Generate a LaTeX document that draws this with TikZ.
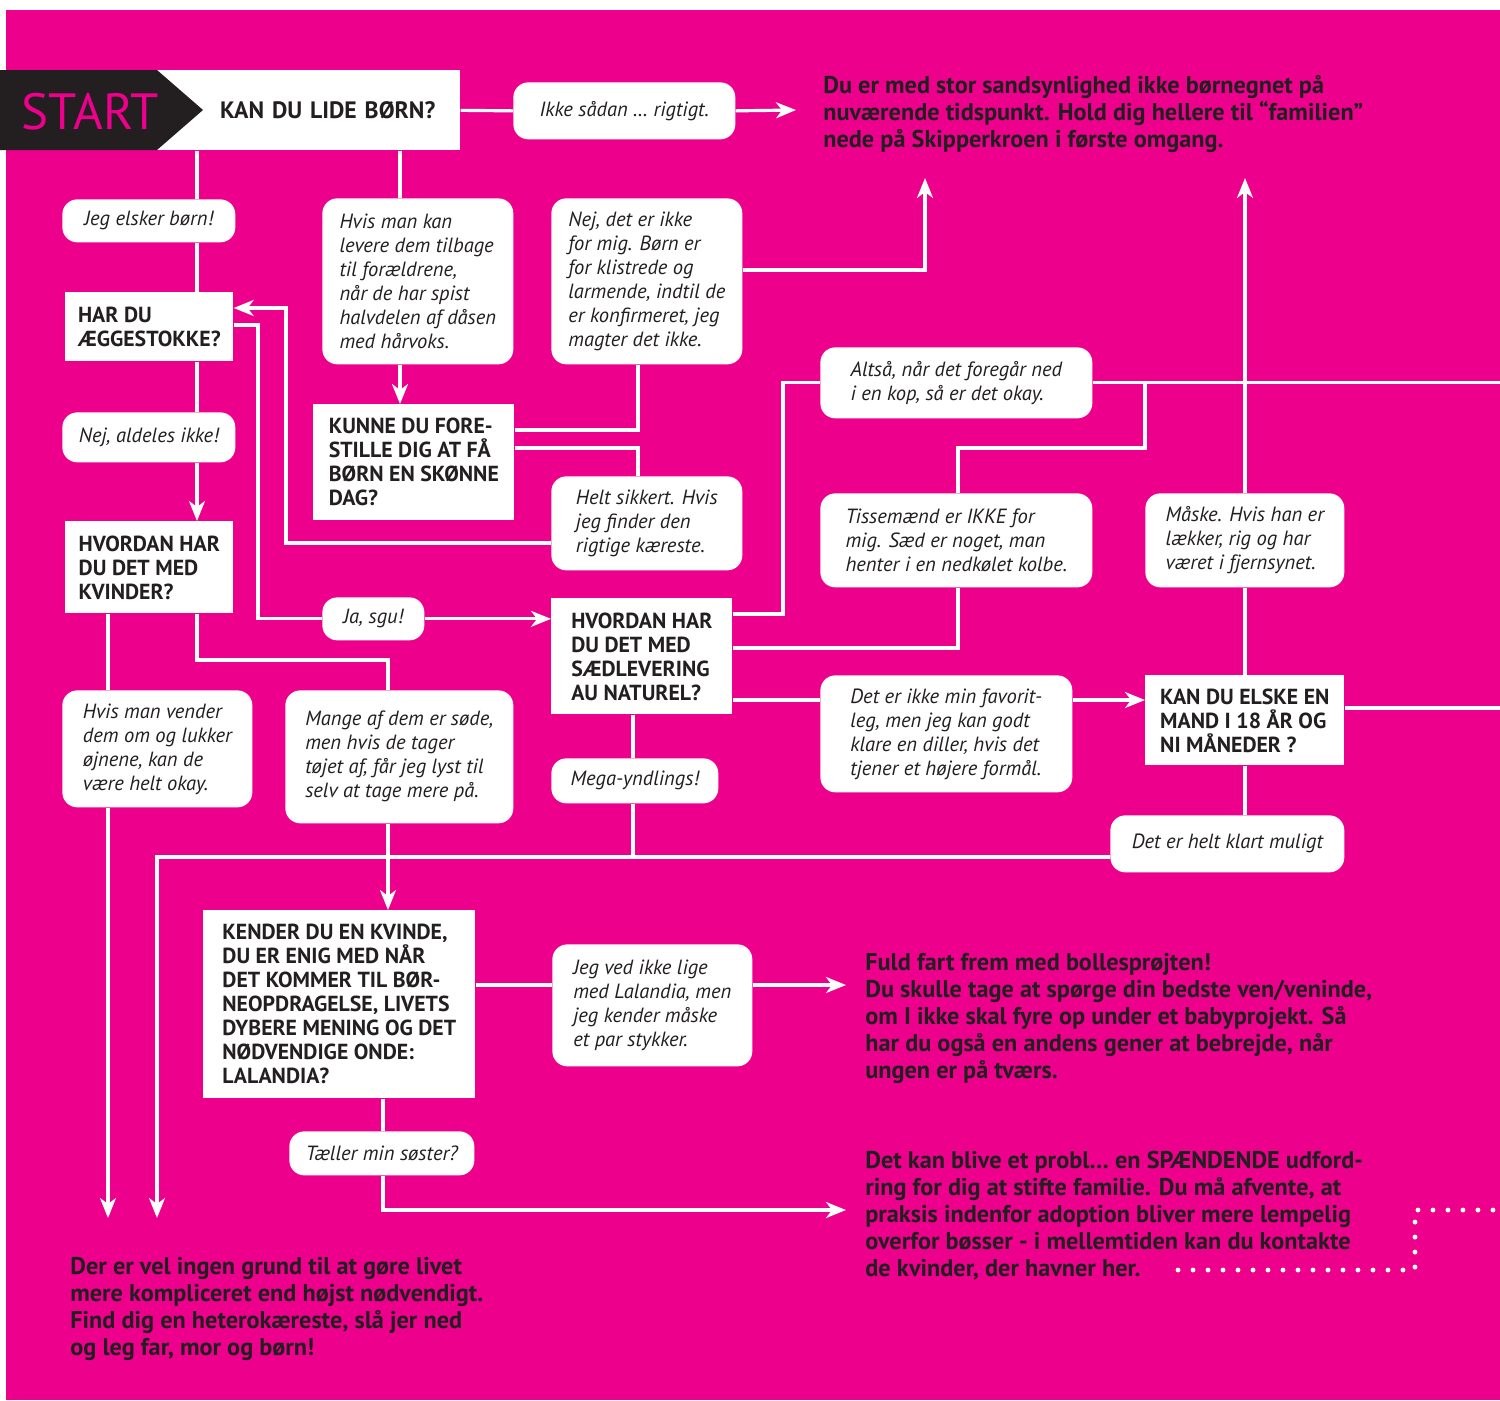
\documentclass[tikz,border=0pt]{standalone}
\usepackage{fontspec}
\setmainfont{PT Sans}
\usepackage{tikz}
\usetikzlibrary{arrows.meta}
\definecolor{flowpink}{RGB}{236,0,140}
\definecolor{ink}{RGB}{35,31,32}

\begin{document}
\begin{tikzpicture}[x=0.02cm, y=-0.02cm,
		qbox/.style={fill=white, text=ink, anchor=north west, align=left, inner sep=0pt, font=\bfseries\fontsize{12.4}{13.66}\selectfont},
		bubble/.style={qbox, rounded corners=0.3cm, font=\itshape\fontsize{11.7}{13.66}\selectfont},
		outcome/.style={text=ink, anchor=north west, align=left, inner sep=0pt, font=\bfseries\fontsize{13.8}{15.3}\selectfont},
		wire/.style={draw=white, line width=1.8pt},
		arrowline/.style={wire, -{Stealth[length=0.4cm, width=0.32cm, inset=0.12cm]}},
		dots/.style={draw=white, line width=2.8pt, line cap=round, dash pattern=on 0pt off 0.3cm}
	]
		\useasboundingbox (0,0) rectangle (1500,1400);
		\fill[white] (0,0) rectangle (1500,1400);
		\fill[flowpink] (6,10) rectangle (1500,1400);

		% columns and rows of the lines
		\coordinate (xa) at (197,0);
		\coordinate (xb) at (400,0);
		\coordinate (xc) at (638,0);
		\coordinate (xe) at (286,0);
		\coordinate (xf) at (258,0);
		\coordinate (xg) at (108,0);
		\coordinate (xh) at (388,0);
		\coordinate (xi) at (383,0);
		\coordinate (xj) at (783,0);
		\coordinate (xk) at (958,0);
		\coordinate (xl) at (1145,0);
		\coordinate (xm) at (1245,0);
		\coordinate (xo) at (633,0);
		\coordinate (ya) at (0,270);
		\coordinate (yb) at (0,430);
		\coordinate (yc) at (0,448);
		\coordinate (yd) at (0,543);
		\coordinate (ye) at (0,308);
		\coordinate (yf) at (0,325);
		\coordinate (yg) at (0,660);
		\coordinate (yh) at (0,614);
		\coordinate (yi) at (0,648);
		\coordinate (yk) at (0,708);
		\coordinate (yl) at (0,857);
		\coordinate (ym) at (0,985);
		\coordinate (yr) at (0,700);
		\coordinate (tipa) at (796,110);
		\coordinate (tipb) at (925,178);
		\coordinate (tipc) at (108,1218);
		\coordinate (tipd) at (157,1218);
		\coordinate (tipe) at (846,985);
		\coordinate (tipf) at (846,1210);
		\coordinate (edge) at (1500,0);
		\coordinate (dota) at (1178,1270);
		\coordinate (dotb) at (1415,1270);
		\coordinate (dotc) at (1500,1210);

		\node[qbox, align=right, text width=5.1cm, inner xsep=0.5cm, minimum height=1.6cm, font=\bfseries\fontsize{13.5}{15}\selectfont] (kan) at (155,70) {KAN DU LIDE BØRN?};
		\fill[ink] (0,70) -- (157,70) -- (203,110) -- (157,150) -- (0,150) -- cycle;
		\node[text=flowpink, font=\fontsize{29}{30}\selectfont] (start) at (90,112) {START};

		\node[qbox, minimum width=3.36cm, minimum height=1.38cm] (aeg) at (65,292) {HAR DU\\ÆGGESTOKKE?};
		\node[qbox, minimum width=4.02cm, minimum height=2.32cm] (kunne) at (313,404) {KUNNE DU FORE-\\STILLE DIG AT FÅ\\BØRN EN SKØNNE\\DAG?};
		\node[qbox, minimum width=3.36cm, minimum height=1.84cm] (kvinder) at (65,521) {HVORDAN HAR\\DU DET MED\\KVINDER?};
		\node[qbox, minimum width=3.62cm, minimum height=2.32cm] (saed) at (551,598) {HVORDAN HAR\\DU DET MED\\SÆDLEVERING\\AU NATUREL?};
		\node[qbox, minimum width=3.98cm, minimum height=1.8cm] (elske) at (1145,675) {KAN DU ELSKE EN\\MAND I 18 ÅR OG\\NI MÅNEDER ?};
		\node[qbox, minimum width=5.44cm, minimum height=3.76cm] (kender) at (203,910) {KENDER DU EN KVINDE,\\DU ER ENIG MED NÅR\\DET KOMMER TIL BØR-\\NEOPDRAGELSE, LIVETS\\DYBERE MENING OG DET\\NØDVENDIGE ONDE:\\LALANDIA?};

		\node[bubble, minimum width=4.44cm, minimum height=1.14cm] (ikke) at (513,82) {Ikke sådan … rigtigt.};
		\node[bubble, minimum width=3.46cm, minimum height=0.86cm] (elsker) at (62,199) {Jeg elsker børn!};
		\node[bubble, minimum width=3.82cm, minimum height=3.32cm] (hvisman) at (322,198) {Hvis man kan\\levere dem tilbage\\til forældrene,\\når de har spist\\halvdelen af dåsen\\med hårvoks.};
		\node[bubble, minimum width=3.82cm, minimum height=3.32cm] (nejdet) at (551,198) {Nej, det er ikke\\for mig. Børn er\\for klistrede og\\larmende, indtil de\\er konfirmeret, jeg\\magter det ikke.};
		\node[bubble, minimum width=3.46cm, minimum height=1cm] (aldeles) at (62,412) {Nej, aldeles ikke!};
		\node[bubble, minimum width=3.82cm, minimum height=1.88cm] (helt) at (551,476) {Helt sikkert. Hvis\\jeg finder den\\rigtige kæreste.};
		\node[bubble, minimum width=2.04cm, minimum height=0.86cm] (jasgu) at (322,597) {Ja, sgu!};
		\node[bubble, minimum width=5.44cm, minimum height=1.42cm] (altsaa) at (820,347) {Altså, når det foregår ned\\i en kop, så er det okay.};
		\node[bubble, minimum width=5.44cm, minimum height=1.88cm] (tisse) at (820,493) {Tissemænd er IKKE for\\mig. Sæd er noget, man\\henter i en nedkølet kolbe.};
		\node[bubble, minimum width=3.98cm, minimum height=1.88cm] (maaske) at (1145,493) {Måske. Hvis han er\\lækker, rig og har\\været i fjernsynet.};
		\node[bubble, minimum width=3.8cm, minimum height=2.34cm] (vender) at (62,690) {Hvis man vender\\dem om og lukker\\øjnene, kan de\\være helt okay.};
		\node[bubble, minimum width=4.56cm, minimum height=2.66cm] (mange) at (285,690) {Mange af dem er søde,\\men hvis de tager\\tøjet af, får jeg lyst til\\selv at tage mere på.};
		\node[bubble, minimum width=3.34cm, minimum height=0.9cm] (mega) at (551,758) {Mega-yndlings!};
		\node[bubble, minimum width=5.04cm, minimum height=2.34cm] (favorit) at (820,675) {Det er ikke min favorit-\\leg, men jeg kan godt\\klare en diller, hvis det\\tjener et højere formål.};
		\node[bubble, minimum width=4.68cm, minimum height=1.14cm] (muligt) at (1110,815) {Det er helt klart muligt};
		\node[bubble, minimum width=4cm, minimum height=2.44cm] (lalandia) at (552,944) {Jeg ved ikke lige\\med Lalandia, men\\jeg kender måske\\et par stykker.};
		\node[bubble, minimum width=3.7cm, minimum height=0.88cm] (soester) at (289,1131) {Tæller min søster?};

		\node[outcome] (outa) at (823,75) {Du er med stor sandsynlighed ikke børnegnet på\\nuværende tidspunkt. Hold dig hellere til “familien”\\nede på Skipperkroen i første omgang.};
		\node[outcome] (outb) at (865,953) {Fuld fart frem med bollesprøjten!\\Du skulle tage at spørge din bedste ven/veninde,\\om I ikke skal fyre op under et babyprojekt. Så\\har du også en andens gener at bebrejde, når\\ungen er på tværs.};
		\node[outcome] (outc) at (865,1151) {Det kan blive et probl… en SPÆNDENDE udford-\\ring for dig at stifte familie. Du må afvente, at\\praksis indenfor adoption bliver mere lempelig\\overfor bøsser - i mellemtiden kan du kontakte\\de kvinder, der havner her.};
		\node[outcome] (outd) at (70,1257) {Der er vel ingen grund til at gøre livet\\mere kompliceret end højst nødvendigt.\\Find dig en heterokæreste, slå jer ned\\og leg far, mor og børn!};

		\draw[wire] (kan.east) -- (ikke.west);
		\draw[arrowline] (ikke.east) -- (tipa);
		\draw[wire] (kan.south -| xa) -- (elsker.north -| xa);
		\draw[wire] (elsker.south -| xa) -- (aeg.north -| xa);
		\draw[wire] (aeg.south -| xa) -- (aldeles.north -| xa);
		\draw[arrowline] (aldeles.south -| xa) -- (kvinder.north -| xa);
		\draw[wire] (kan.south -| xb) -- (hvisman.north -| xb);
		\draw[arrowline] (hvisman.south -| xb) -- (kunne.north -| xb);
		\draw[arrowline] (nejdet.east |- ya) -| (tipb);
		\draw[wire] (kunne.east |- yb) -| (nejdet.south -| xc);
		\draw[wire] (kunne.east |- yc) -| (helt.north -| xc);
		\draw[arrowline] (helt.west |- yd) -| (xe |- ye) -- (aeg.east |- ye);
		\draw[wire] (aeg.east |- yf) -| (xf |- jasgu.west) -- (jasgu.west);
		\draw[arrowline] (jasgu.east) -- (saed.west |- jasgu.east);
		\draw[wire] (kvinder.south -| xg) -- (vender.north -| xg);
		\draw[arrowline] (vender.south -| xg) -- (tipc);
		\draw[wire] (kvinder.south -| xa) |- (xh |- yg) -- (mange.north -| xh);
		\draw[arrowline] (mange.south -| xh) -- (kender.north -| xh);
		\draw[wire] (saed.east |- yh) -| (xj |- altsaa.west) -- (altsaa.west);
		\draw[wire] (altsaa.east) -- (altsaa.east -| edge);
		\draw[wire] (saed.east |- yi) -| (tisse.south -| xk);
		\draw[wire] (tisse.north -| xk) |- (xl |- yc) -- (xl |- altsaa.east);
		\draw[wire] (saed.east |- yr) -- (favorit.west |- yr);
		\draw[arrowline] (favorit.east |- yr) -- (elske.west |- yr);
		\draw[wire] (elske.north -| xm) -- (maaske.south -| xm);
		\draw[arrowline] (maaske.north -| xm) -- (xm |- tipb);
		\draw[wire] (elske.east |- yk) -- (edge |- yk);
		\draw[wire] (elske.south -| xm) -- (muligt.north -| xm);
		\draw[arrowline] (muligt.west |- yl) -| (tipd);
		\draw[wire] (saed.south -| xo) -- (mega.north -| xo);
		\draw[wire] (mega.south -| xo) -- (xo |- yl);
		\draw[wire] (kender.east |- ym) -- (lalandia.west |- ym);
		\draw[arrowline] (lalandia.east |- ym) -- (tipe);
		\draw[wire] (kender.south -| xi) -- (soester.north -| xi);
		\draw[arrowline] (soester.south -| xi) |- (tipf);
		\draw[dots] (dota) -- (dotb) |- (dotc);
	\end{tikzpicture}
\end{document}
